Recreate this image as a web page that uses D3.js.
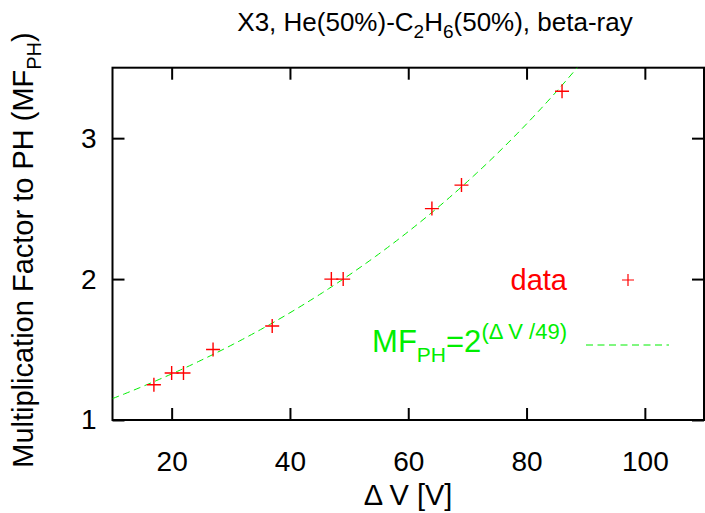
<!DOCTYPE html>
<html><head><meta charset="utf-8">
<script src="https://cdn.jsdelivr.net/npm/d3@7"></script>
<style>body{margin:0;background:#fff}svg{display:block}text{font-family:"Liberation Sans",Arial,sans-serif}</style>
</head><body><svg id="c" width="705" height="513"></svg>
<script>
const voltages = [17, 20, 22, 27, 37, 47, 49, 64, 69, 86];
const mfValues = [1.25, 1.333, 1.333, 1.5, 1.667, 2.0, 2.0, 2.5, 2.667, 3.333];
const xTicks = [20, 40, 60, 80, 100];
const yTicks = [1, 2, 3];
const xDomain = [10, 110];
const yDomain = [1, 3.5];
const fitBase = 2, fitScale = 49;

const svg = d3.select("#c");
const L = 112.5, R = 704, T = 67.7, B = 420;
const x = d3.scaleLinear().domain(xDomain).range([L, R]);
const y = d3.scaleLinear().domain(yDomain).range([B, T]);
const red = "#ff0000", green = "#00ee00";
const dash = "7,4.5";

// frame
svg.append("rect").attr("x", L).attr("y", T).attr("width", R - L).attr("height", B - T)
  .attr("fill", "none").attr("stroke", "#000").attr("stroke-width", 2);

const tl = 12;
const xAxB = svg.append("g").attr("transform", `translate(0,${B})`)
  .call(d3.axisBottom(x).tickValues(xTicks).tickSizeInner(-tl).tickSizeOuter(0).tickPadding(31).tickFormat(d3.format("d")));
const xAxT = svg.append("g").attr("transform", `translate(0,${T})`)
  .call(d3.axisTop(x).tickValues(xTicks).tickSizeInner(-tl).tickSizeOuter(0).tickFormat(""));
const yAxL = svg.append("g").attr("transform", `translate(${L},0)`)
  .call(d3.axisLeft(y).tickValues(yTicks).tickSizeInner(-tl).tickSizeOuter(0).tickPadding(16).tickFormat(d3.format("d")));
const yAxR = svg.append("g").attr("transform", `translate(${R},0)`)
  .call(d3.axisRight(y).tickValues(yTicks).tickSizeInner(-tl).tickSizeOuter(0).tickFormat(""));
[xAxB, xAxT, yAxL, yAxR].forEach(g => {
  g.select(".domain").remove();
  g.selectAll(".tick line").attr("stroke", "#000").attr("stroke-width", 2);
  g.selectAll("text").attr("font-size", 28).attr("fill", "#000").attr("font-family", "Liberation Sans, Arial, sans-serif");
});

// fit curve
svg.append("clipPath").attr("id", "clip").append("rect").attr("x", L).attr("y", T).attr("width", R - L).attr("height", B - T);
const curveX = d3.range(xDomain[0], xDomain[1] + 0.001, 0.5);
svg.append("path").attr("clip-path", "url(#clip)")
  .datum(curveX)
  .attr("d", d3.line().x(d => x(d)).y(d => y(Math.pow(fitBase, d / fitScale))))
  .attr("fill", "none").attr("stroke", green).attr("stroke-width", 1).attr("stroke-dasharray", dash);

// data points
const ps = 7;
const pts = svg.append("g");
voltages.forEach((v, i) => {
  const cx = x(v), cy = y(mfValues[i]);
  pts.append("path").attr("d", `M${cx - ps},${cy}H${cx + ps}M${cx},${cy - ps}V${cy + ps}`)
    .attr("stroke", red).attr("stroke-width", 1.4).attr("fill", "none");
});

// legend
const lx = 567;
svg.append("text").attr("x", lx).attr("y", 290).attr("text-anchor", "end")
  .attr("font-size", 29).attr("fill", red).text("data");
const lpx = 628, lpy = 280;
svg.append("path").attr("d", `M${lpx - 6},${lpy}H${lpx + 6}M${lpx},${lpy - 6}V${lpy + 6}`)
  .attr("stroke", red).attr("stroke-width", 1.2);
const ft = svg.append("text").attr("x", lx).attr("y", 352).attr("text-anchor", "end")
  .attr("font-size", 31).attr("fill", green);
ft.append("tspan").text("MF");
ft.append("tspan").attr("font-size", 21).attr("dy", 10).text("PH");
ft.append("tspan").attr("dy", -10).text("=2");
ft.append("tspan").attr("font-size", 22).attr("dy", -13).text("(Δ V /49)");
svg.append("line").attr("x1", 586).attr("x2", 669).attr("y1", 345).attr("y2", 345)
  .attr("stroke", green).attr("stroke-width", 1).attr("stroke-dasharray", dash);

// title
const tt = svg.append("text").attr("x", 435).attr("y", 31).attr("text-anchor", "middle").attr("font-size", 26).attr("fill", "#000");
tt.append("tspan").text("X3, He(50%)-C");
tt.append("tspan").attr("font-size", 19).attr("dy", 7).text("2");
tt.append("tspan").attr("dy", -7).text("H");
tt.append("tspan").attr("font-size", 19).attr("dy", 7).text("6");
tt.append("tspan").attr("dy", -7).text("(50%), beta-ray");

// x label
svg.append("text").attr("x", 408).attr("y", 505).attr("text-anchor", "middle").attr("font-size", 29).text("Δ V [V]");

// y label
const yl = svg.append("text").attr("transform", "translate(33,250) rotate(-90)").attr("text-anchor", "middle").attr("font-size", 29);
yl.append("tspan").text("Multiplication Factor to PH (MF");
yl.append("tspan").attr("font-size", 20).attr("dy", 8).text("PH");
yl.append("tspan").attr("dy", -8).text(")");
</script></body></html>
